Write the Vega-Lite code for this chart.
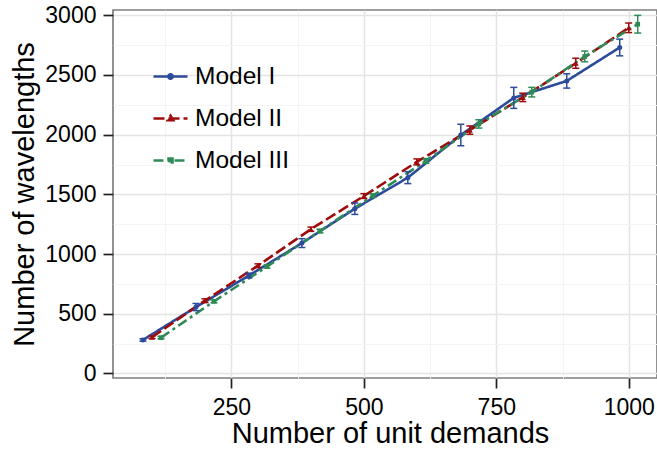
{
  "$schema": "https://vega.github.io/schema/vega-lite/v6.json",
  "width": 544,
  "height": 368,
  "autosize": {"type": "none"},
  "padding": {"left": 113, "top": 10, "right": 0, "bottom": 71},
  "background": "white",
  "config": {
    "font": "Liberation Sans",
    "view": {"stroke": "#7f7f7f", "strokeWidth": 1.7}
  },
  "data": {
    "values": [
      {"model": "Model I", "demands": 83, "wl": 281, "lo": 271, "hi": 291},
      {"model": "Model I", "demands": 183, "wl": 556, "lo": 526, "hi": 586},
      {"model": "Model I", "demands": 283, "wl": 820, "lo": 800, "hi": 840},
      {"model": "Model I", "demands": 383, "wl": 1092, "lo": 1055, "hi": 1129},
      {"model": "Model I", "demands": 483, "wl": 1380, "lo": 1332, "hi": 1428},
      {"model": "Model I", "demands": 583, "wl": 1640, "lo": 1590, "hi": 1690},
      {"model": "Model I", "demands": 683, "wl": 1997, "lo": 1907, "hi": 2087},
      {"model": "Model I", "demands": 783, "wl": 2308, "lo": 2220, "hi": 2396},
      {"model": "Model I", "demands": 883, "wl": 2450, "lo": 2390, "hi": 2510},
      {"model": "Model I", "demands": 983, "wl": 2730, "lo": 2660, "hi": 2800},
      {"model": "Model II", "demands": 100, "wl": 303, "lo": 293, "hi": 313},
      {"model": "Model II", "demands": 200, "wl": 610, "lo": 595, "hi": 625},
      {"model": "Model II", "demands": 300, "wl": 903, "lo": 888, "hi": 918},
      {"model": "Model II", "demands": 400, "wl": 1208, "lo": 1190, "hi": 1226},
      {"model": "Model II", "demands": 500, "wl": 1486, "lo": 1466, "hi": 1506},
      {"model": "Model II", "demands": 600, "wl": 1772, "lo": 1747, "hi": 1797},
      {"model": "Model II", "demands": 700, "wl": 2038, "lo": 2003, "hi": 2073},
      {"model": "Model II", "demands": 800, "wl": 2312, "lo": 2277, "hi": 2347},
      {"model": "Model II", "demands": 900, "wl": 2598, "lo": 2556, "hi": 2640},
      {"model": "Model II", "demands": 1000, "wl": 2895, "lo": 2855, "hi": 2935},
      {"model": "Model III", "demands": 117, "wl": 300, "lo": 290, "hi": 310},
      {"model": "Model III", "demands": 217, "wl": 604, "lo": 592, "hi": 616},
      {"model": "Model III", "demands": 317, "wl": 895, "lo": 883, "hi": 907},
      {"model": "Model III", "demands": 417, "wl": 1193, "lo": 1178, "hi": 1208},
      {"model": "Model III", "demands": 517, "wl": 1489, "lo": 1474, "hi": 1504},
      {"model": "Model III", "demands": 617, "wl": 1780, "lo": 1760, "hi": 1800},
      {"model": "Model III", "demands": 717, "wl": 2090, "lo": 2055, "hi": 2125},
      {"model": "Model III", "demands": 817, "wl": 2356, "lo": 2316, "hi": 2396},
      {"model": "Model III", "demands": 917, "wl": 2655, "lo": 2610, "hi": 2700},
      {"model": "Model III", "demands": 1017, "wl": 2925, "lo": 2851, "hi": 2999}
    ]
  },
  "encoding": {
    "x": {
      "field": "demands",
      "type": "quantitative",
      "scale": {"domain": [26.4, 1053.4], "nice": false, "zero": false},
      "axis": {
        "values": [125, 250, 375, 500, 625, 750, 875, 1000],
        "format": "d",
        "labelExpr": "datum.value % 250 === 0 ? datum.label : ''",
        "labelOverlap": false,
        "labelFlush": false,
        "domain": false,
        "grid": true,
        "gridColor": {"condition": {"test": "datum.value % 250 === 0", "value": "#e4e4e4"}, "value": "#f4f4f4"},
        "gridWidth": {"condition": {"test": "datum.value % 250 === 0", "value": 1.5}, "value": 1},
        "tickColor": {"condition": {"test": "datum.value % 250 === 0", "value": "#222222"}, "value": "transparent"},
        "tickSize": 10,
        "tickWidth": 1.7,
        "labelFont": "Liberation Sans",
        "labelFontSize": 23,
        "labelColor": "black",
        "labelPadding": 8,
        "title": "Number of unit demands",
        "titleFont": "Liberation Sans",
        "titleFontSize": 29,
        "titleFontWeight": "normal",
        "titleColor": "black",
        "titlePadding": 0,
        "titleX": 277
      }
    },
    "y": {
      "field": "wl",
      "type": "quantitative",
      "scale": {"domain": [-38, 3044], "nice": false, "zero": false},
      "axis": {
        "values": [0, 250, 500, 750, 1000, 1250, 1500, 1750, 2000, 2250, 2500, 2750, 3000],
        "format": "d",
        "labelExpr": "datum.value % 500 === 0 ? datum.label : ''",
        "labelOverlap": false,
        "labelFlush": false,
        "domain": false,
        "grid": true,
        "gridColor": {"condition": {"test": "datum.value % 500 === 0", "value": "#e4e4e4"}, "value": "#f4f4f4"},
        "gridWidth": {"condition": {"test": "datum.value % 500 === 0", "value": 1.5}, "value": 1},
        "tickColor": {"condition": {"test": "datum.value % 500 === 0", "value": "#222222"}, "value": "transparent"},
        "tickSize": 10,
        "tickWidth": 1.7,
        "labelFont": "Liberation Sans",
        "labelFontSize": 23,
        "labelColor": "black",
        "labelPadding": 7,
        "title": "Number of wavelengths",
        "titleFont": "Liberation Sans",
        "titleFontSize": 29,
        "titleFontWeight": "normal",
        "titleColor": "black",
        "titlePadding": 5
      }
    },
    "color": {
      "field": "model",
      "type": "nominal",
      "scale": {"domain": ["Model I", "Model II", "Model III"], "range": ["#2d4b9b", "#9e0b0b", "#2e8b57"]},
      "legend": {
        "title": null,
        "orient": "none",
        "legendX": 39,
        "legendY": 48,
        "padding": 0,
        "labelFont": "Liberation Sans",
        "labelFontSize": 24.5,
        "labelColor": "black",
        "labelOffset": 6,
        "rowPadding": 12,
        "symbolSize": 1156,
        "symbolStrokeWidth": 2.5,
        "encode": {
          "symbols": {
            "update": {
              "shape": {"signal": "datum.value === 'Model I' ? 'M-1,0H1M-0.13,0A0.13,0.13 0 1,0 0.13,0A0.13,0.13 0 1,0 -0.13,0Z' : datum.value === 'Model II' ? 'M-1,0H1M0,-0.17L0.16,0.1L-0.16,0.1Z' : 'M-1,0H1M-0.12,-0.12H0.12V0.12H-0.12Z'"},
              "strokeDash": {"signal": "datum.value === 'Model II' ? [14, 3] : datum.value === 'Model III' ? [12, 3, 3, 3] : [1, 0]"},
              "fill": {"scale": "color", "field": "value"},
              "stroke": {"scale": "color", "field": "value"},
              "opacity": {"value": 1}
            }
          }
        }
      }
    }
  },
  "layer": [
    {
      "mark": {"type": "line", "strokeWidth": 2.6, "strokeCap": "butt"},
      "encoding": {
        "strokeDash": {
          "field": "model",
          "type": "nominal",
          "scale": {"domain": ["Model I", "Model II", "Model III"], "range": [[1, 0], [11, 4], [10, 4, 3, 4]]},
          "legend": null
        }
      }
    },
    {
      "mark": {"type": "rule", "strokeWidth": 1.5},
      "encoding": {"y": {"field": "lo", "type": "quantitative"}, "y2": {"field": "hi"}}
    },
    {
      "mark": {"type": "tick", "orient": "horizontal", "size": 7, "thickness": 1.5, "opacity": 1},
      "encoding": {"y": {"field": "lo", "type": "quantitative"}}
    },
    {
      "mark": {"type": "tick", "orient": "horizontal", "size": 7, "thickness": 1.5, "opacity": 1},
      "encoding": {"y": {"field": "hi", "type": "quantitative"}}
    },
    {
      "transform": [{"filter": "datum.model === 'Model I'"}],
      "mark": {"type": "point", "filled": true, "opacity": 1, "size": 25, "shape": "circle"},
      "encoding": {}
    },
    {
      "transform": [{"filter": "datum.model === 'Model II'"}],
      "mark": {"type": "point", "filled": true, "opacity": 1, "size": 35, "shape": "triangle-up"},
      "encoding": {}
    },
    {
      "transform": [{"filter": "datum.model === 'Model III'"}],
      "mark": {"type": "point", "filled": true, "opacity": 1, "size": 22, "shape": "square"},
      "encoding": {}
    }
  ]
}
